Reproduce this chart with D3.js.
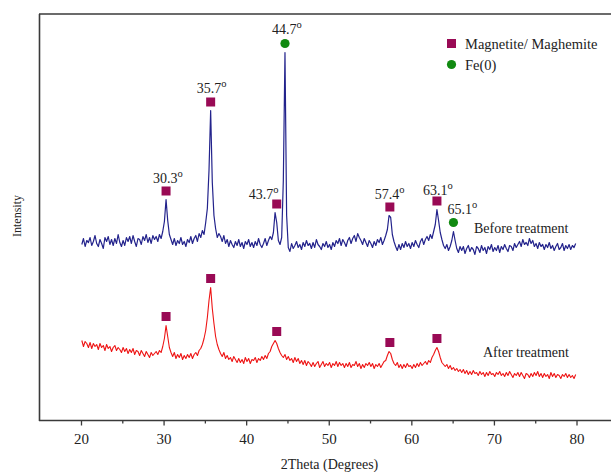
<!DOCTYPE html>
<html>
<head>
<meta charset="utf-8">
<script src="https://cdn.jsdelivr.net/npm/d3@7/dist/d3.min.js"></script>
<style>
  html, body { margin: 0; padding: 0; background: #fff; }
  svg { display: block; }
  text { font-family: "Liberation Serif", "Times New Roman", serif; fill: #222; }
</style>
</head>
<body>
<svg id="chart" width="611" height="472"></svg>
<script>
// ---------------- DATA ----------------
// 2θ sampling of the diffraction scans (degrees): 20.1°, 20.3°, ... 79.9°
const thetaStart = 20.1;
const thetaStep = 0.2;

// Intensity (a.u.), "Before treatment" scan
const beforeTreatment = [
  176,182,174,180,178, 183,175,179,185,177, 174,181,177,172,183, 179,184,176,181,175,
  182,177,186,178,174, 180,175,183,179,184, 177,185,179,174,182, 181,176,184,180,186,
  178,183,177,185,181, 184,179,186,182,189, 199,221,200,186,181, 176,182,175,180,177,
  183,176,179,174,181, 178,184,177,182,185, 179,187,183,190,186, 198,212,250,310,238,
  205,192,183,187,184, 179,185,177,181,174, 180,176,173,179,175, 181,174,178,172,179,
  176,181,174,178,173, 179,175,182,176,173, 177,182,175,180,184, 181,188,208,198,180,
  176,183,240,368,205, 173,169,177,172,175, 179,173,176,171,178, 174,180,175,177,172,
  178,173,181,176,174, 171,177,174,179,173, 176,171,178,174,180, 177,182,175,181,178,
  174,180,183,177,182, 185,179,187,183,180, 176,182,178,174,180, 177,173,179,175,181,
  178,183,176,180,185, 191,205,203,186,179, 174,170,176,171,177, 173,179,174,177,172,
  178,174,180,176,173, 179,182,176,181,184, 180,186,182,189,196, 211,200,188,181,175,
  172,176,170,174,180, 189,180,172,168,174, 170,174,167,172,175, 169,173,171,166,174,
  172,168,175,170,173, 167,174,171,176,169, 173,170,175,168,174, 171,176,172,169,175,
  174,170,177,173,176, 179,174,181,176,178, 175,182,177,180,174, 177,172,178,174,176,
  171,176,173,178,172, 175,170,174,177,171, 173,177,170,175,172, 176,171,175,173,177
];

// Intensity (a.u.), "After treatment" scan
const afterTreatment = [
  80,74,79,77,73, 78,72,77,74,76, 71,77,73,75,70, 76,72,74,69,73,
  75,70,73,71,68, 73,69,72,67,71, 68,72,66,70,69, 65,70,67,64,69,
  66,63,68,65,67, 69,66,70,68,74, 82,95,84,73,68, 64,68,62,66,63,
  67,61,65,62,66, 63,67,62,66,68, 65,70,72,76,82, 90,103,120,133,112,
  97,84,76,71,67, 64,68,62,65,61, 63,59,64,61,58, 62,58,61,57,63,
  59,62,57,61,60, 63,58,62,60,64, 61,65,62,67,69, 74,77,80,77,72,
  68,65,63,66,61, 64,60,62,58,63, 59,62,57,60,56, 60,55,59,57,54,
  58,54,57,59,53, 56,59,54,57,55, 58,53,57,55,59, 54,58,55,57,53,
  57,54,58,53,56, 55,59,54,57,52, 56,53,57,55,58, 54,57,52,56,54,
  57,53,56,59,60, 65,69,67,61,57, 55,58,53,56,52, 56,53,57,54,55,
  52,56,53,57,54, 58,55,57,59,56, 60,58,63,66,70, 73,69,63,58,56,
  54,56,52,55,51, 53,50,52,49,51, 48,51,47,50,46, 49,46,50,47,48,
  45,49,46,48,44, 48,45,49,46,47, 44,48,46,49,45, 47,44,48,45,49,
  46,43,47,45,48, 44,48,45,42,47, 46,43,47,44,48, 45,49,44,47,43,
  47,44,46,42,48, 44,47,43,46,45, 42,46,44,47,43, 46,43,45,42,46
];

// Reflections
const magnetitePeaks = [30.3, 35.7, 43.7, 57.4, 63.1];
const magnetiteLabels = ["30.3", "35.7", "43.7", "57.4", "63.1"];
const fePeaksBefore = [44.7, 65.1];
const feLabels = ["44.7", "65.1"];
const magnetitePeaksAfter = [30.3, 35.7, 43.7, 57.4, 63.1];

const xTicks = [20, 30, 40, 50, 60, 70, 80];
const xMinorTicks = [25, 35, 45, 55, 65, 75];
const legendLabels = ["Magnetite/ Maghemite", "Fe(0)"];
const seriesNames = ["Before treatment", "After treatment"];
const xTitle = "2Theta (Degrees)";
const yTitle = "Intensity";

// ---------------- LAYOUT / STYLE ----------------
const W = 611, H = 472;
const colBlue = "#23238c", colRed = "#ee1515", colMag = "#990a55", colFe = "#118a11";
const axisCol = "#3a3a3a";

const svg = d3.select("#chart");
const x = d3.scaleLinear().domain([15, 85]).range([39.7, 617.8]);
const y = d3.scaleLinear().domain([0, 406]).range([420.5, 14.5]);

const toPts = arr => arr.map((v, i) => [thetaStart + i * thetaStep, v]);
const bPts = toPts(beforeTreatment);
const aPts = toPts(afterTreatment);

const line = d3.line().x(d => x(d[0])).y(d => y(d[1]));

// frame: left and top lines
svg.append("line").attr("x1", 39.5).attr("x2", 39.5).attr("y1", 14).attr("y2", 421)
  .attr("stroke", axisCol).attr("stroke-width", 1.6);
svg.append("line").attr("x1", 39).attr("x2", W).attr("y1", 14).attr("y2", 14)
  .attr("stroke", axisCol).attr("stroke-width", 1.6);

// bottom axis
const gx = svg.append("g").attr("transform", "translate(0,420.5)");
gx.append("line").attr("x1", 39).attr("x2", W).attr("stroke", axisCol).attr("stroke-width", 1.6);
gx.call(d3.axisBottom(x).tickValues(xTicks).tickSize(5).tickPadding(8).tickFormat(d3.format("d")))
  .call(g => g.select(".domain").remove())
  .call(g => g.selectAll("line").attr("stroke", axisCol).attr("stroke-width", 1.3))
  .call(g => g.selectAll("text").style("font-size", "15px").style("font-family", '"Liberation Serif", serif').attr("fill", "#333"));
const gm = svg.append("g").attr("transform", "translate(0,420.5)");
gm.call(d3.axisBottom(x).tickValues(xMinorTicks).tickSize(3).tickFormat(""))
  .call(g => g.select(".domain").remove())
  .call(g => g.selectAll("line").attr("stroke", axisCol).attr("stroke-width", 1.3));

// titles
svg.append("text").attr("x", 329.5).attr("y", 469).attr("text-anchor", "middle")
  .style("font-size", "14px").text(xTitle);
svg.append("text").attr("transform", "translate(21,216) rotate(-90)").attr("text-anchor", "middle")
  .style("font-size", "12px").text(yTitle);

// series
svg.append("path").datum(aPts).attr("d", line).attr("fill", "none")
  .attr("stroke", colRed).attr("stroke-width", 1.1).attr("stroke-linejoin", "round");
svg.append("path").datum(bPts).attr("d", line).attr("fill", "none")
  .attr("stroke", colBlue).attr("stroke-width", 1.2).attr("stroke-linejoin", "round");

// helpers
const peakTop = (pts, th) => d3.max(pts.filter(p => Math.abs(p[0] - th) <= 0.3), p => p[1]);
const sq = 9, r = 4.6;
function square(cx, cy) {
  svg.append("rect").attr("x", cx - sq / 2).attr("y", cy - sq / 2).attr("width", sq).attr("height", sq).attr("fill", colMag);
}
function dot(cx, cy) {
  svg.append("circle").attr("cx", cx).attr("cy", cy).attr("r", r).attr("fill", colFe);
}
function degLabel(px, py, txt) {
  const t = svg.append("text").attr("x", px).attr("y", py).style("font-size", "14px");
  t.append("tspan").text(txt);
  t.append("tspan").attr("dy", -6).style("font-size", "10.5px").text("o");
}

// label offsets (px) relative to marker centre
const magLabelOffsets = [[-13, -8], [-14, -9], [-28, -5], [-15, -8], [-14, -6]];
const feLabelOffsets = [[-13, -10], [-6, -9]];

magnetitePeaks.forEach((th, i) => {
  const cx = x(th), cy = y(peakTop(bPts, th)) - 8.5;
  square(cx, cy);
  degLabel(cx + magLabelOffsets[i][0], cy + magLabelOffsets[i][1], magnetiteLabels[i]);
});
fePeaksBefore.forEach((th, i) => {
  const cx = x(th), cy = y(peakTop(bPts, th)) - 9;
  dot(cx, cy);
  degLabel(cx + feLabelOffsets[i][0], cy + feLabelOffsets[i][1], feLabels[i]);
});
magnetitePeaksAfter.forEach(th => {
  const cx = x(th), cy = y(peakTop(aPts, th)) - 9;
  square(cx, cy);
});

// series names
svg.append("text").attr("x", 474).attr("y", 233).style("font-size", "14px").text(seriesNames[0]);
svg.append("text").attr("x", 483).attr("y", 357).style("font-size", "14px").text(seriesNames[1]);

// legend
square(451.5, 43.5);
svg.append("text").attr("x", 465).attr("y", 48.5).style("font-size", "14.5px").text(legendLabels[0]);
dot(451.5, 64.5);
svg.append("text").attr("x", 465).attr("y", 69.5).style("font-size", "14.5px").text(legendLabels[1]);
</script>
</body>
</html>
